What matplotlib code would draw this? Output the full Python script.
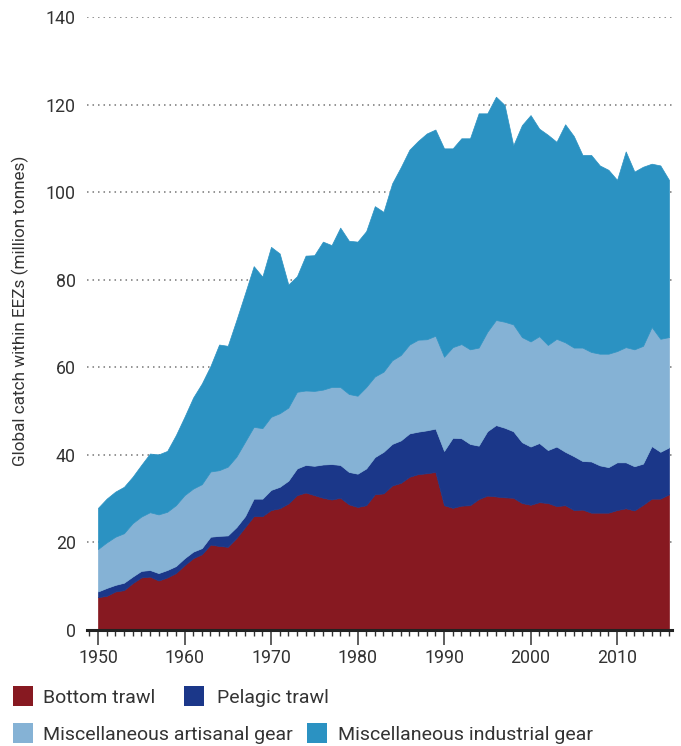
import matplotlib
matplotlib.use("Agg")
import matplotlib.pyplot as plt
from matplotlib.patches import Rectangle
from matplotlib.ticker import MultipleLocator
import numpy as np

plt.rcParams['font.family'] = ['Roboto', 'DejaVu Sans']

years = list(range(1950, 2017))

bottom_trawl = [7.5, 7.8, 8.8, 9.1, 10.7, 12.0, 12.2, 11.3, 12.0, 13.0,
                14.8, 16.4, 17.3, 19.5, 19.2, 19.0, 21.0, 23.5, 26.0, 26.0,
                27.4, 27.8, 28.9, 30.8, 31.4, 30.8, 30.2, 29.8, 30.2, 28.7,
                28.1, 28.5, 31.0, 31.2, 33.0, 33.6, 35.0, 35.6, 35.8, 36.1,
                28.5, 27.9, 28.4, 28.5, 29.9, 30.7, 30.5, 30.3, 30.2, 29.0,
                28.6, 29.2, 29.0, 28.3, 28.5, 27.4, 27.5, 26.8, 26.8, 26.8,
                27.4, 27.8, 27.3, 28.6, 30.0, 30.0, 31.0]

pelagic_trawl = [1.3, 1.8, 1.5, 1.7, 1.5, 1.5, 1.5, 1.7, 1.7, 1.6,
                 1.6, 1.5, 1.4, 1.8, 2.3, 2.6, 2.5, 2.5, 4.0, 4.0,
                 4.6, 4.9, 5.2, 6.1, 6.3, 6.7, 7.6, 8.1, 7.5, 7.4,
                 7.6, 8.4, 8.5, 9.5, 9.5, 9.7, 9.9, 9.7, 9.8, 9.9,
                 12.4, 16.0, 15.4, 14.0, 12.2, 14.7, 16.3, 15.9, 15.2, 13.9,
                 13.3, 13.5, 12.1, 13.6, 12.2, 12.3, 11.1, 11.7, 10.8, 10.4,
                 10.9, 10.5, 10.1, 9.4, 12.0, 10.7, 10.7]

artisanal_gear = [9.7, 10.4, 11.0, 11.3, 12.2, 12.4, 13.2, 13.4, 13.3, 13.9,
                  14.4, 14.4, 14.6, 14.9, 15.0, 15.7, 16.1, 17.0, 16.4, 16.1,
                  16.7, 16.8, 16.7, 17.5, 17.0, 17.1, 17.1, 17.6, 17.8, 17.8,
                  17.8, 18.6, 18.4, 18.3, 19.1, 19.5, 20.3, 21.0, 20.8, 21.2,
                  21.5, 20.7, 21.5, 21.6, 22.4, 22.7, 24.0, 24.2, 24.4, 24.0,
                  24.0, 24.4, 24.0, 24.6, 25.0, 24.8, 25.9, 25.0, 25.5, 25.9,
                  25.4, 26.3, 26.7, 26.9, 27.2, 25.8, 25.2]

industrial_gear = [9.4, 10.0, 10.3, 10.6, 10.6, 11.8, 13.4, 13.7, 13.9, 16.0,
                   17.9, 20.8, 23.0, 24.1, 28.7, 27.6, 31.2, 33.9, 36.7, 34.6,
                   38.8, 36.5, 28.1, 26.4, 30.8, 31.0, 33.8, 32.4, 36.4, 35.0,
                   35.2, 35.6, 38.9, 36.5, 40.4, 42.9, 44.5, 45.4, 47.0, 47.1,
                   47.6, 45.4, 47.0, 48.2, 53.5, 49.9, 51.0, 49.5, 40.9, 48.4,
                   51.7, 47.4, 48.0, 45.0, 49.8, 48.3, 44.0, 45.0, 43.0, 42.0,
                   39.1, 44.7, 40.6, 40.9, 37.3, 39.6, 35.9]

series_names = ["Bottom trawl", "Pelagic trawl",
                "Miscellaneous artisanal gear", "Miscellaneous industrial gear"]
series_colors = ["#871921", "#1b3789", "#85b2d5", "#2b92c2"]

y_ticks = [0, 20, 40, 60, 80, 100, 120, 140]
x_ticks = [1950, 1960, 1970, 1980, 1990, 2000, 2010]
y_label = "Global catch within EEZs (million tonnes)"

W, H = 681, 746
fig = plt.figure(figsize=(W / 100, H / 100), dpi=100)
ax = fig.add_axes([87 / W, 1 - 630 / H, (672 - 87) / W, (630 - 17) / H])

text_color = "#333333"

for yt in y_ticks[1:]:
    ax.axhline(yt, color="#777777", lw=1.1, ls=(0, (1, 2.6)), zorder=0)

data = [bottom_trawl, pelagic_trawl, artisanal_gear, industrial_gear]
polys = ax.stackplot(years, *data, colors=series_colors, zorder=2,
                     linewidth=0.5)
for p, c in zip(polys, series_colors):
    p.set_edgecolor(c)

ax.set_xlim(1948.73, 2016.35)
ax.set_ylim(0, 140)

for s in ["top", "right", "left"]:
    ax.spines[s].set_visible(False)
ax.spines["bottom"].set_linewidth(2.2)
ax.spines["bottom"].set_color("#222222")
ax.spines["bottom"].set_zorder(5)

ax.set_xticks(x_ticks)
ax.xaxis.set_minor_locator(MultipleLocator(1))
ax.tick_params(axis="x", which="major", length=11, width=1.1, color="#333333",
               labelsize=12.8, labelcolor=text_color, pad=3)
ax.tick_params(axis="x", which="minor", length=4.5, width=1.0, color="#333333")
ax.set_yticks(y_ticks)
ax.tick_params(axis="y", length=0, labelsize=12.8, labelcolor=text_color, pad=8)

fig.text(20 / W, 1 - 311 / H, y_label, rotation=90, ha="center", va="center",
         fontsize=12.3, color=text_color)

# legend (flow layout)
legend_items = [
    (13, 696, 43),
    (184, 696, 217),
    (13, 733, 43),
    (307, 733, 338),
]
sq = 20
for (sx, cy, tx), name, col in zip(legend_items, series_names, series_colors):
    fig.add_artist(Rectangle((sx / W, 1 - (cy + sq / 2) / H), sq / W, sq / H,
                             transform=fig.transFigure, facecolor=col,
                             edgecolor="none"))
    fig.text(tx / W, 1 - cy / H, name, ha="left", va="center_baseline",
             fontsize=14, color=text_color)

fig.savefig("out.png", dpi=100)
